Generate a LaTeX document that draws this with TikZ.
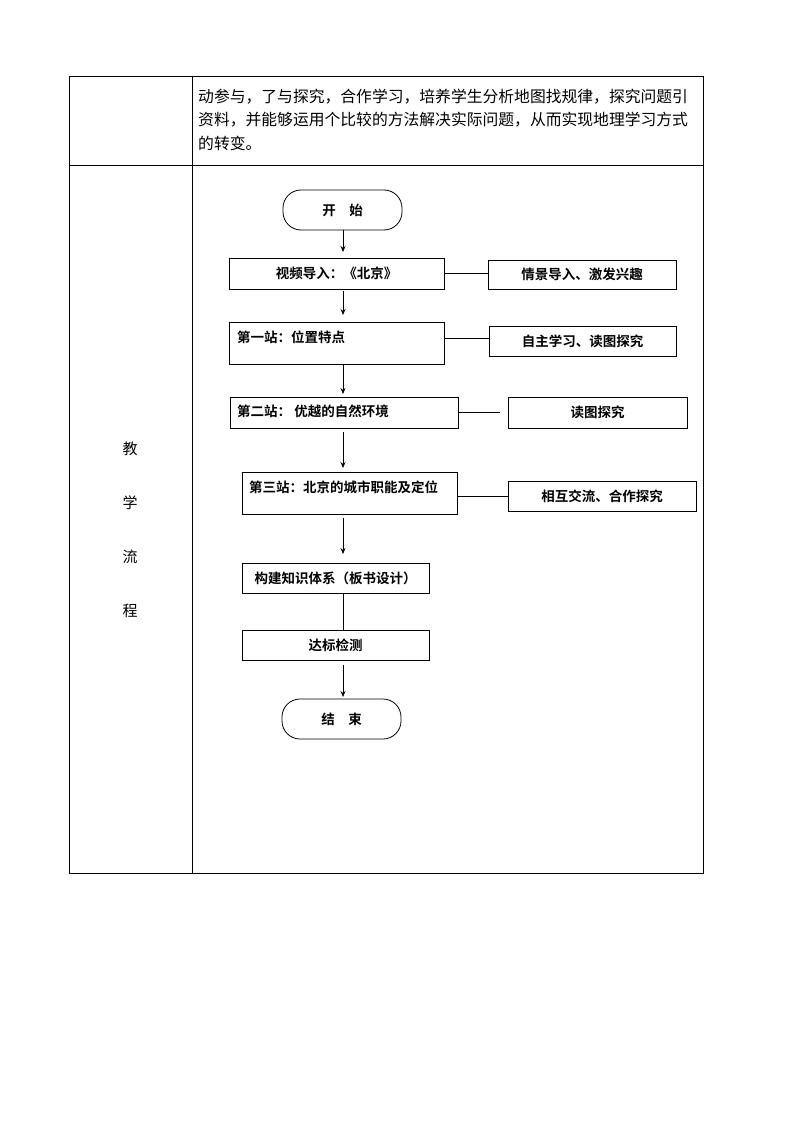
\documentclass[tikz,border=0pt]{standalone}
\usepackage{fontspec}
\newfontfamily\cjk{Noto Sans CJK SC}
\newfontfamily\cjkb{Noto Sans CJK SC Bold}
\usetikzlibrary{arrows.meta}
\begin{document}
\begin{tikzpicture}[x=1pt,y=-1pt,
  bx/.style={draw,line width=0.8pt,font=\cjkb\fontsize{13.5}{15}\selectfont},
  lb/.style={anchor=west,font=\cjkb\fontsize{13.5}{15}\selectfont,inner sep=0},
  arr/.style={-{Stealth[length=6pt,width=5pt]},line width=0.7pt},
  ln/.style={line width=0.7pt}]
\useasboundingbox[fill=white] (0,0) rectangle (794,1123);
% table
\draw[line width=0.8pt] (69,76) rectangle (703,873);
\draw[line width=0.8pt] (192,76) -- (192,873);
\draw[line width=0.8pt] (69,165) -- (703,165);
\foreach \t/\yy in {动参与，了与探究，合作学习，培养学生分析地图找规律，探究问题引/97,资料，并能够运用个比较的方法解决实际问题，从而实现地理学习方式/120,的转变。/143}
  \node[anchor=west,font=\cjk\fontsize{15.8}{17}\selectfont,inner sep=0] at (198,\yy) {\t};
\foreach \t/\yy in {教/449,学/503,流/557,程/611}
  \node[font=\cjk\fontsize{15}{17}\selectfont] at (130,\yy) {\t};
% flowchart
\node[bx,rounded corners=18pt,minimum width=119pt,minimum height=40pt] (s) at (342.5,210) {开\quad 始};
\node[bx,minimum width=215pt,minimum height=31pt] (a) at (336.5,273.5) {视频导入：《北京》};
\node[bx,minimum width=188pt,minimum height=29pt] (ar) at (582,274.5) {情景导入、激发兴趣};
\node[bx,minimum width=215pt,minimum height=42pt] (b) at (336.5,343) {};
\node[lb] at (237,337) {第一站：位置特点};
\node[bx,minimum width=187pt,minimum height=30pt] (br) at (582.5,341) {自主学习、读图探究};
\node[bx,minimum width=228pt,minimum height=31pt] (c) at (344,412.5) {};
\node[lb] at (237,411) {第二站： 优越的自然环境};
\node[bx,minimum width=179pt,minimum height=31pt] (cr) at (597.5,412.5) {读图探究};
\node[bx,minimum width=215pt,minimum height=42pt] (d) at (349.5,493) {};
\node[lb] at (249,487) {第三站：北京的城市职能及定位};
\node[bx,minimum width=188pt,minimum height=30pt] (dr) at (602,496) {相互交流、合作探究};
\node[bx,minimum width=187pt,minimum height=30pt] (e) at (335.5,578) {构建知识体系（板书设计）};
\node[bx,minimum width=187pt,minimum height=30pt] (f) at (335.5,645) {达标检测};
\node[bx,rounded corners=18pt,minimum width=119pt,minimum height=40pt] (t) at (341.5,719) {结\quad 束};
\draw[arr] (343,230) -- (343,252);
\draw[arr] (343,291) -- (343,315);
\draw[arr] (343,365) -- (343,394);
\draw[arr] (343,432) -- (343,468);
\draw[arr] (343,518) -- (343,554);
\draw[ln] (343,593) -- (343,630);
\draw[arr] (343,665) -- (343,697);
\draw[ln] (a.east |- 0,273) -- (ar.west |- 0,273);
\draw[ln] (444,338) -- (br.west |- 0,338);
\draw[ln] (c.east) -- (500,412.5);
\draw[ln] (457,496) -- (dr.west);
\end{tikzpicture}
\end{document}
